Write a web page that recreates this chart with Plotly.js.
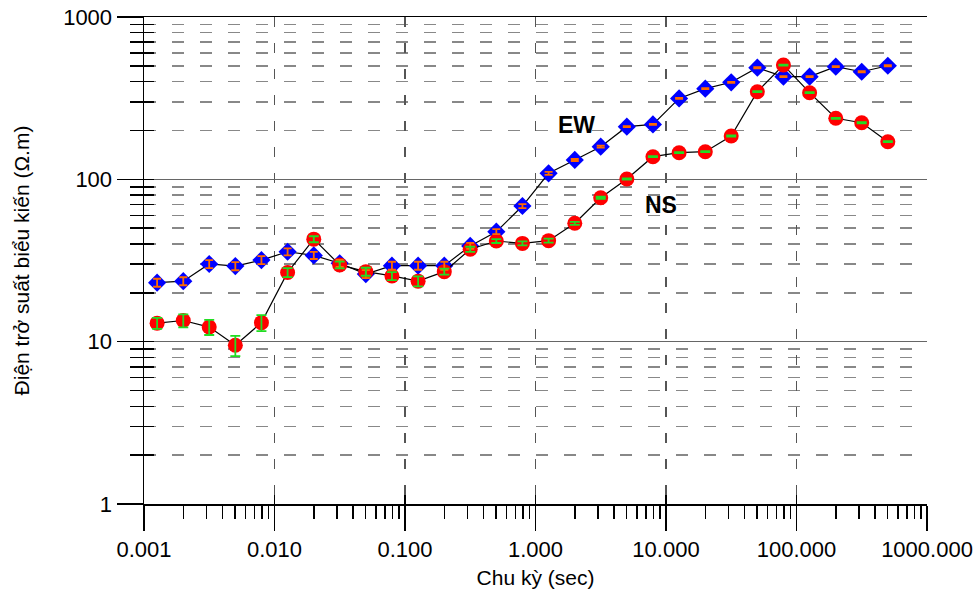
<!DOCTYPE html>
<html>
<head>
<meta charset="utf-8">
<script src="https://cdn.plot.ly/plotly-3.0.1.min.js"></script>
<style>html,body{margin:0;padding:0;background:#fff;}#chart{width:977px;height:592px;}</style>
</head>
<body>
<div id="chart"></div>
<script>
// Period (sec)
var periods = [0.00126, 0.002, 0.00316, 0.00501, 0.00794, 0.0126, 0.02, 0.0316, 0.0501, 0.0794,
  0.126, 0.2, 0.316, 0.501, 0.794, 1.26, 2, 3.16, 5.01, 7.94,
  12.6, 20, 31.6, 50.1, 79.4, 126, 200, 316, 501];
// Apparent resistivity EW (Ohm.m)
var ewValues = [23.1, 23.6, 30.1, 29.2, 31.8, 35.8, 34.0, 30.4, 26.1, 29.4,
  29.4, 29.4, 38.9, 47.6, 68.5, 108.9, 131.6, 158.9, 211, 218,
  315, 362, 396, 487, 429, 429, 494, 460, 501];
var ewErrors = [1.31, 1.34, 1.71, 1.66, 1.80, 1.78, 1.69, 1.51, 1.48, 1.67,
  1.67, 1.67, 1.65, 1.69, 1.94, 2.32, 1.87, 2.25, 1.5, 1.55,
  2.2, 2.6, 2.8, 3.5, 3.0, 3.0, 3.5, 3.3, 3.6];
// Apparent resistivity NS (Ohm.m)
var nsValues = [13.0, 13.5, 12.3, 9.5, 13.1, 26.7, 42.8, 29.7, 27.0, 25.4,
  23.6, 27.0, 37.1, 41.7, 40.3, 41.9, 53.6, 77.0, 100.5, 137.9,
  145.9, 148, 184.9, 346.6, 506, 341.7, 237.7, 223.2, 170.5];
var nsErrors = [1.01, 1.24, 1.31, 1.35, 1.49, 1.70, 1.82, 1.39, 1.53, 1.44,
  1.67, 1.15, 1.32, 1.18, 1.14, 1.19, 1.14, 1.09, 0.71, 0.98,
  1.03, 1.05, 1.31, 2.46, 3.6, 2.4, 1.7, 1.6, 1.2];
// Tick labels
var xTickVals = [0.001, 0.01, 0.1, 1, 10, 100, 1000];
var xTickText = ["0.001", "0.010", "0.100", "1.000", "10.000", "100.000", "1000.000"];
var yTickVals = [1, 10, 100, 1000];
var yTickText = ["1", "10", "100", "1000"];
var seriesLabels = ["EW", "NS"];

var FONT = "Liberation Sans, Arial, sans-serif";

var traces = [
  {x: periods, y: ewValues, type: "scatter", mode: "lines+markers", name: seriesLabels[0],
   line: {color: "#000", width: 1.2},
   marker: {symbol: "diamond", size: 14, color: "#0000ff", line: {width: 0}}},
  {x: periods, y: nsValues, type: "scatter", mode: "lines+markers", name: seriesLabels[1],
   line: {color: "#000", width: 1.2},
   marker: {symbol: "circle", size: 15, color: "#ff0000", line: {width: 0}}},
  {x: periods, y: ewValues, type: "scatter", mode: "markers", xaxis: "x2", yaxis: "y2",
   marker: {size: 1, opacity: 0}, hoverinfo: "skip",
   error_y: {type: "data", array: ewErrors, visible: true, color: "#ff6a00", thickness: 1.8, width: 4}},
  {x: periods, y: nsValues, type: "scatter", mode: "markers", xaxis: "x2", yaxis: "y2",
   marker: {size: 1, opacity: 0}, hoverinfo: "skip",
   error_y: {type: "data", array: nsErrors, visible: true, color: "#22dd22", thickness: 1.8, width: 5}}
];

var layout = {
  width: 977, height: 592,
  margin: {l: 144, r: 50, t: 17, b: 88},
  paper_bgcolor: "#fff", plot_bgcolor: "#fff",
  showlegend: false,
  font: {family: FONT, color: "#000"},
  xaxis: {
    type: "log", range: [-3, 3], fixedrange: true,
    tickmode: "array", tickvals: xTickVals, ticktext: xTickText,
    tickfont: {size: 22, family: FONT, color: "#000"},
    ticks: "outside", ticklen: 25, tickwidth: 1.5, tickcolor: "#000",
    showline: true, linecolor: "#000", linewidth: 1.5, mirror: true,
    showgrid: true, gridcolor: "#555", gridwidth: 1.5, griddash: "10px,16px",
    minor: {ticks: "outside", ticklen: 13, tickwidth: 1.5, tickcolor: "#000", dtick: "D1", showgrid: false},
    title: {text: "Chu kỳ (sec)", font: {size: 21, family: FONT, color: "#000"}, standoff: 9},
    automargin: false
  },
  yaxis: {
    type: "log", range: [0, 3], fixedrange: true,
    tickmode: "array", tickvals: yTickVals, ticktext: yTickText,
    tickfont: {size: 22, family: FONT, color: "#000"},
    ticks: "outside", ticklen: 26, tickwidth: 1.5, tickcolor: "#000",
    showline: true, linecolor: "#000", linewidth: 1.5,
    showgrid: true, gridcolor: "#666", gridwidth: 1.5,
    minor: {ticks: "outside", ticklen: 13, tickwidth: 1.5, tickcolor: "#000", dtick: "D1",
            showgrid: true, gridcolor: "#888", gridwidth: 1.5, griddash: "12px,16px"},
    title: {text: "Điện trở suất biểu kiến (Ω.m)", font: {size: 21, family: FONT, color: "#000"}, standoff: 28},
    automargin: false
  },
  xaxis2: {
    type: "log", range: [-3, 3], overlaying: "x", anchor: "y2", fixedrange: true,
    tickmode: "array", tickvals: xTickVals, showticklabels: false,
    ticks: "inside", ticklen: 9, tickwidth: 1.5, tickcolor: "#000",
    showline: false, showgrid: false
  },
  yaxis2: {
    type: "log", range: [0, 3], overlaying: "y", anchor: "x2", fixedrange: true,
    tickmode: "array", tickvals: yTickVals, showticklabels: false,
    ticks: "inside", ticklen: 0, tickwidth: 1.5, tickcolor: "#000",
    minor: {ticks: "inside", ticklen: 10, tickwidth: 1.5, tickcolor: "#000", dtick: "D1", showgrid: false},
    showline: false, showgrid: false
  },
  annotations: [
    {text: "<b>" + seriesLabels[0] + "</b>", x: 0.314, y: 2.335, xref: "x", yref: "y", showarrow: false,
     font: {size: 23, family: FONT, color: "#000"}},
    {text: "<b>" + seriesLabels[1] + "</b>", x: 0.958, y: 1.842, xref: "x", yref: "y", showarrow: false,
     font: {size: 23, family: FONT, color: "#000"}}
  ]
};

Plotly.newPlot("chart", traces, layout, {staticPlot: true, displayModeBar: false});
</script>
</body>
</html>
